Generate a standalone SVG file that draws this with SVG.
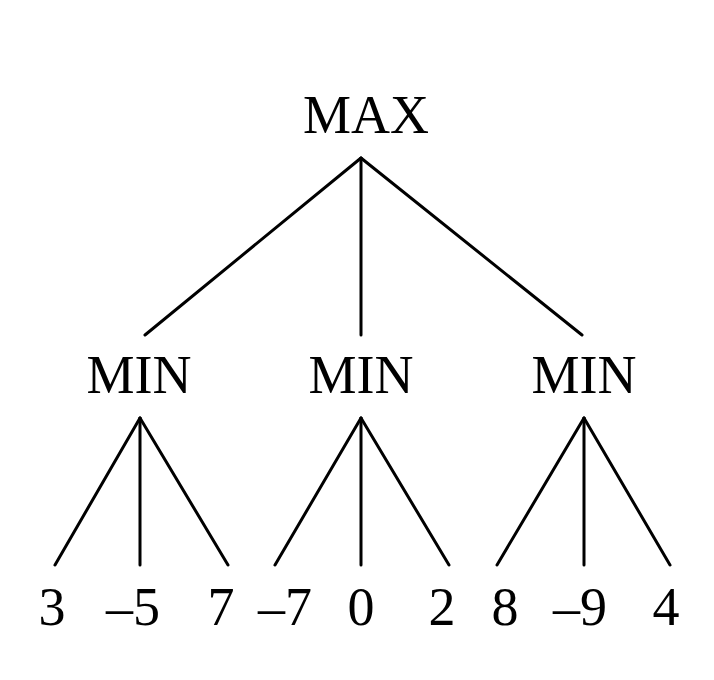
<svg xmlns="http://www.w3.org/2000/svg" width="714" height="680" viewBox="0 0 714 680">
  <style>
    .lbl { font-family: "Liberation Serif", "Times New Roman", serif; font-size: 54px; fill: #000; text-anchor: middle; }
    .edge { stroke: #000; stroke-width: 3; fill: none; stroke-linecap: round; }
  </style>
  <rect width="714" height="680" fill="#fff"/>
  <g id="connectors">
    <line class="edge" x1="361" y1="158" x2="145" y2="335"/>
    <line class="edge" x1="361" y1="158" x2="361" y2="335"/>
    <line class="edge" x1="361" y1="158" x2="582" y2="335"/>
    <line class="edge" x1="140" y1="418" x2="55" y2="565"/>
    <line class="edge" x1="140" y1="418" x2="140" y2="565"/>
    <line class="edge" x1="140" y1="418" x2="228" y2="565"/>
    <line class="edge" x1="361" y1="418" x2="275" y2="565"/>
    <line class="edge" x1="361" y1="418" x2="361" y2="565"/>
    <line class="edge" x1="361" y1="418" x2="449" y2="565"/>
    <line class="edge" x1="584" y1="418" x2="497" y2="565"/>
    <line class="edge" x1="584" y1="418" x2="584" y2="565"/>
    <line class="edge" x1="584" y1="418" x2="670" y2="565"/>
  </g>
  <g id="max"><text class="lbl" x="366" y="133">MAX</text></g>
  <g id="min1"><text class="lbl" x="139" y="393">MIN</text></g>
  <g id="min2"><text class="lbl" x="361" y="393">MIN</text></g>
  <g id="min3"><text class="lbl" x="584" y="393">MIN</text></g>
  <g id="leaf1"><text class="lbl" x="52" y="625">3</text></g>
  <g id="leaf2"><text class="lbl" x="133" y="625">–5</text></g>
  <g id="leaf3"><text class="lbl" x="221" y="625">7</text></g>
  <g id="leaf4"><text class="lbl" x="285" y="625">–7</text></g>
  <g id="leaf5"><text class="lbl" x="361" y="625">0</text></g>
  <g id="leaf6"><text class="lbl" x="442" y="625">2</text></g>
  <g id="leaf7"><text class="lbl" x="505" y="625">8</text></g>
  <g id="leaf8"><text class="lbl" x="580" y="625">–9</text></g>
  <g id="leaf9"><text class="lbl" x="666" y="625">4</text></g>
</svg>
